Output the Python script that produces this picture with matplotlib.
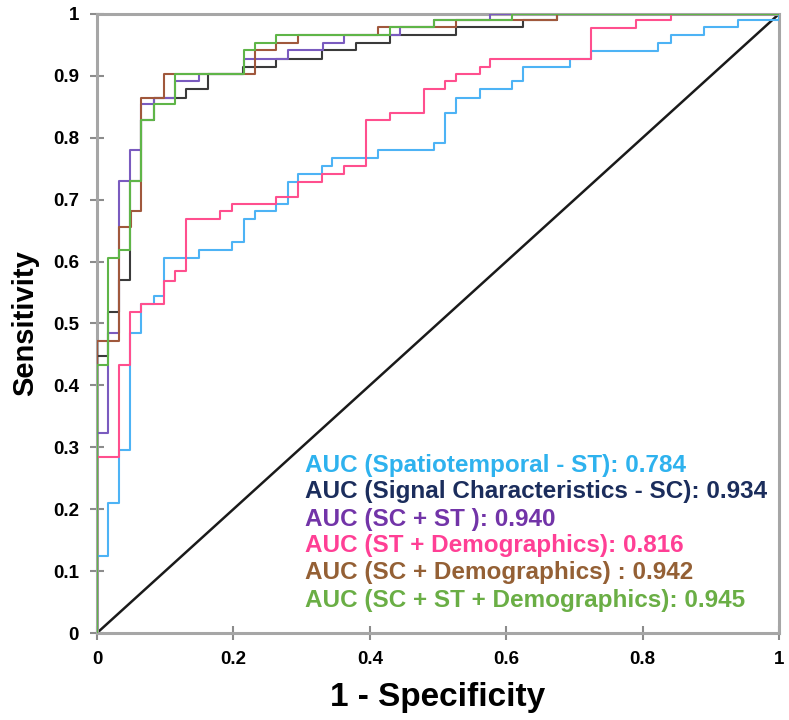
import matplotlib
matplotlib.use("Agg")
import matplotlib.pyplot as plt
import numpy as np

# ROC step points: (fpr, tpr) where tpr jumps at fpr
fpr_st = [0, 0, 0.016, 0.032, 0.048, 0.065, 0.083, 0.098, 0.149, 0.198, 0.215, 0.231, 0.263, 0.28, 0.295,
          0.33, 0.345, 0.412, 0.494, 0.511, 0.527, 0.561, 0.609, 0.625, 0.693, 0.725, 0.823, 0.841, 0.89, 0.94, 1.0]
tpr_st = [0, 0.124, 0.21, 0.296, 0.484, 0.531, 0.544, 0.605, 0.619, 0.631, 0.668, 0.681, 0.693, 0.729, 0.742,
          0.755, 0.767, 0.780, 0.792, 0.840, 0.864, 0.878, 0.891, 0.915, 0.927, 0.94, 0.953, 0.966, 0.979, 0.99, 1.0]

fpr_sc = [0, 0, 0.016, 0.032, 0.048, 0.065, 0.083, 0.131, 0.163, 0.214, 0.262, 0.33, 0.38, 0.43, 0.527, 0.625, 0.675, 1]
tpr_sc = [0, 0.447, 0.519, 0.570, 0.730, 0.829, 0.865, 0.879, 0.903, 0.915, 0.928, 0.941, 0.953, 0.966, 0.979, 0.99, 1.0, 1.0]

fpr_sc_st = [0, 0, 0.016, 0.032, 0.048, 0.065, 0.083, 0.114, 0.149, 0.215, 0.28, 0.332, 0.362, 0.444, 0.494, 0.577, 1]
tpr_sc_st = [0, 0.323, 0.484, 0.730, 0.780, 0.854, 0.865, 0.892, 0.903, 0.928, 0.941, 0.953, 0.966, 0.979, 0.99, 1.0, 1.0]

fpr_st_demo = [0, 0, 0.032, 0.048, 0.065, 0.098, 0.114, 0.131, 0.18, 0.198, 0.263, 0.295, 0.33, 0.362, 0.394,
               0.429, 0.479, 0.511, 0.527, 0.561, 0.577, 0.725, 0.791, 0.841, 1]
tpr_st_demo = [0, 0.284, 0.433, 0.519, 0.531, 0.569, 0.584, 0.668, 0.681, 0.693, 0.705, 0.729, 0.742, 0.755, 0.828,
               0.840, 0.878, 0.891, 0.903, 0.915, 0.927, 0.977, 0.99, 1.0, 1.0]

fpr_sc_demo = [0, 0, 0.032, 0.05, 0.065, 0.099, 0.231, 0.263, 0.295, 0.412, 0.527, 0.675, 1]
tpr_sc_demo = [0, 0.471, 0.656, 0.682, 0.865, 0.903, 0.941, 0.953, 0.966, 0.979, 0.99, 1.0, 1.0]

fpr_all = [0, 0, 0.016, 0.032, 0.048, 0.065, 0.083, 0.114, 0.215, 0.231, 0.263, 0.43, 0.494, 0.609, 1]
tpr_all = [0, 0.433, 0.605, 0.619, 0.730, 0.829, 0.854, 0.903, 0.941, 0.953, 0.966, 0.979, 0.99, 1.0, 1.0]

labels = ['AUC (Spatiotemporal - ST): 0.784',
          'AUC (Signal Characteristics - SC): 0.934',
          'AUC (SC + ST ): 0.940',
          'AUC (ST + Demographics): 0.816',
          'AUC (SC + Demographics) : 0.942',
          'AUC (SC + ST + Demographics): 0.945']
line_colors = ['#4db3f5', '#3a3a3a', '#7a5bbf', '#ff4f8e', '#a0583c', '#5fb548']
text_colors = ['#2eb2ee', '#1b2d5c', '#7234a8', '#ff3f95', '#946035', '#6aae45']

curves = [(fpr_st, tpr_st), (fpr_sc, tpr_sc), (fpr_sc_st, tpr_sc_st),
          (fpr_st_demo, tpr_st_demo), (fpr_sc_demo, tpr_sc_demo), (fpr_all, tpr_all)]

fam = ['Liberation Sans', 'DejaVu Sans']

fig = plt.figure(figsize=(7.89, 7.20), dpi=100)
ax = fig.add_axes([0.1229, 0.1208, 0.8644, 0.8598])

# chance line
ax.plot([0, 1], [0, 1], color='#1a1a1a', lw=1.8, zorder=2)

draw_order = [0, 3, 1, 2, 4, 5]
for i in draw_order:
    f, t = curves[i]
    ax.step(f, t, where='post', color=line_colors[i], lw=1.5, zorder=3 + i)

ax.set_xlim(0, 1)
ax.set_ylim(0, 1)
ax.set_xticks(np.arange(0, 1.01, 0.2))
ax.set_xticklabels(['0', '0.2', '0.4', '0.6', '0.8', '1'])
ax.set_yticks(np.arange(0, 1.01, 0.1))
ax.set_yticklabels(['0', '0.1', '0.2', '0.3', '0.4', '0.5', '0.6', '0.7', '0.8', '0.9', '1'])

for s in ax.spines.values():
    s.set_color('#a6a6a6')
    s.set_linewidth(2.2)
ax.tick_params(direction='inout', length=10, width=1.5, color='#8c8c8c', pad=8)
for lab in ax.get_xticklabels() + ax.get_yticklabels():
    lab.set_family(fam)
    lab.set_fontweight('bold')
    lab.set_fontsize(13.5)

ax.set_xlabel('1 - Specificity', family=fam, fontweight='bold', fontsize=24, labelpad=10)
ax.set_ylabel('Sensitivity', family=fam, fontweight='bold', fontsize=21, labelpad=10)

ys = [0.271, 0.228, 0.184, 0.141, 0.097, 0.053]
for i in range(6):
    ax.text(0.305, ys[i], labels[i], transform=ax.transAxes, color=text_colors[i],
            family=fam, fontweight='bold', fontsize=17.5,
            va='center', ha='left', zorder=20)

plt.savefig('out.png', dpi=100)
